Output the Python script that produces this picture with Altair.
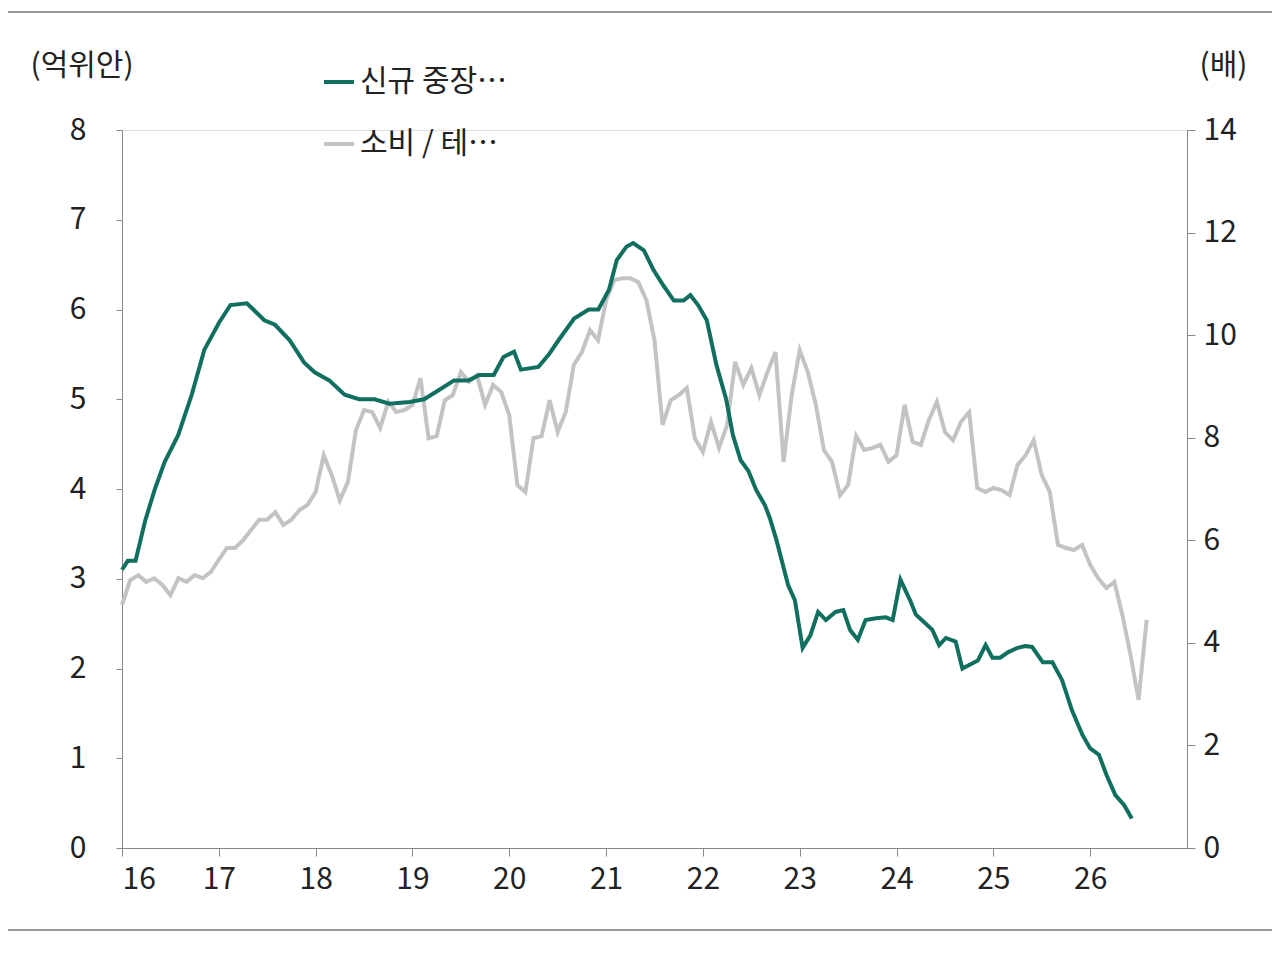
import altair as alt
import pandas as pd

# green: new mid/long-term household loans (12MMA), 억위안
loan_x = [16.00, 16.06, 16.14, 16.24, 16.34, 16.44, 16.58, 16.72, 16.85, 17.00, 17.12, 17.29,
          17.47, 17.58, 17.73, 17.88, 17.99, 18.14, 18.30, 18.45, 18.61, 18.76, 18.97, 19.12,
          19.27, 19.43, 19.58, 19.69, 19.84, 19.94, 20.05, 20.12, 20.30, 20.41, 20.51, 20.67,
          20.82, 20.92, 21.03, 21.11, 21.21, 21.28, 21.39, 21.49, 21.59, 21.70, 21.80, 21.87,
          21.95, 22.04, 22.14, 22.24, 22.31, 22.39, 22.47, 22.55, 22.64, 22.69, 22.76, 22.88,
          22.95, 23.03, 23.11, 23.19, 23.27, 23.37, 23.45, 23.52, 23.60, 23.68, 23.79, 23.89,
          23.96, 24.04, 24.14, 24.20, 24.28, 24.37, 24.44, 24.51, 24.61, 24.68, 24.75, 24.84,
          24.92, 24.99, 25.07, 25.15, 25.25, 25.33, 25.40, 25.51, 25.61, 25.71, 25.81, 25.92,
          26.00, 26.09, 26.17, 26.26, 26.35, 26.43]
loan_v = [3.10, 3.20, 3.20, 3.65, 4.00, 4.30, 4.60, 5.05, 5.55, 5.85, 6.05, 6.07,
          5.88, 5.83, 5.66, 5.41, 5.30, 5.21, 5.05, 5.00, 5.00, 4.95, 4.97, 5.00,
          5.10, 5.21, 5.21, 5.27, 5.27, 5.47, 5.53, 5.33, 5.36, 5.50, 5.66, 5.90,
          6.00, 6.00, 6.22, 6.55, 6.70, 6.74, 6.66, 6.44, 6.27, 6.10, 6.10, 6.16,
          6.05, 5.88, 5.38, 5.00, 4.60, 4.32, 4.20, 3.99, 3.82, 3.68, 3.43, 2.93,
          2.76, 2.23, 2.37, 2.63, 2.54, 2.63, 2.65, 2.43, 2.32, 2.54, 2.56, 2.57,
          2.54, 2.99, 2.76, 2.60, 2.52, 2.43, 2.26, 2.34, 2.30, 2.00, 2.04, 2.09,
          2.26, 2.12, 2.12, 2.18, 2.23, 2.25, 2.24, 2.07, 2.07, 1.87, 1.54, 1.26,
          1.11, 1.04, 0.81, 0.59, 0.48, 0.33]

# gray: consumer / tech relative strength (monthly from 2016-01), 배
ratio_v = [4.74, 5.22, 5.32, 5.19, 5.26, 5.13, 4.93, 5.26, 5.19, 5.32, 5.26, 5.38,
           5.62, 5.85, 5.85, 6.00, 6.20, 6.40, 6.40, 6.55, 6.30, 6.40, 6.59, 6.69,
           6.94, 7.66, 7.27, 6.78, 7.14, 8.15, 8.54, 8.50, 8.19, 8.70, 8.50, 8.54,
           8.64, 9.16, 7.99, 8.03, 8.73, 8.83, 9.28, 9.09, 9.22, 8.64, 9.03, 8.89,
           8.44, 7.08, 6.94, 7.99, 8.03, 8.73, 8.11, 8.50, 9.42, 9.67, 10.10, 9.90,
           10.68, 11.07, 11.11, 11.11, 11.03, 10.68, 9.90, 8.25, 8.73, 8.83, 8.97, 7.99,
           7.72, 8.31, 7.80, 8.25, 9.48, 9.03, 9.36, 8.83, 9.28, 9.67, 7.53, 8.83,
           9.71, 9.28, 8.64, 7.76, 7.53, 6.88, 7.08, 8.03, 7.76, 7.80, 7.86, 7.53,
           7.66, 8.64, 7.92, 7.86, 8.34, 8.70, 8.11, 7.95, 8.31, 8.50, 7.02, 6.94,
           7.02, 6.98, 6.88, 7.47, 7.66, 7.95, 7.27, 6.94, 5.91, 5.85, 5.81, 5.91,
           5.52, 5.26, 5.07, 5.19, 4.54, 3.76, 2.89, 4.45]

GREEN = "#106f5f"
GRAY = "#c3c3c3"
FONT = "Noto Sans CJK KR"
S1 = "신규 중장기 대출 : 가계(12MMA)"
S2 = "소비 / 테크 상대강도 (우)"

loan = pd.DataFrame({"x": loan_x, "v": loan_v, "s": S1})
ratio = pd.DataFrame({"x": [16 + i / 12 for i in range(len(ratio_v))], "v": ratio_v, "s": S2})

xenc = alt.X("x:Q", scale=alt.Scale(domain=[16, 27], nice=False),
             axis=alt.Axis(values=list(range(16, 27)), format="d", title=None, grid=False,
                           labelFontSize=30, labelPadding=8, tickSize=8, domainColor="#888",
                           tickColor="#888", labelColor="#222"))
color = alt.Color("s:N", scale=alt.Scale(domain=[S1, S2], range=[GREEN, GRAY]),
                  legend=alt.Legend(title=None, orient="none", legendX=200, legendY=-65,
                                    symbolType="stroke", symbolStrokeWidth=4, symbolSize=900,
                                    labelFontSize=30, labelFont=FONT, rowPadding=30,
                                    labelColor="#222", symbolOffset=0))

left = alt.Chart(loan).mark_line(strokeWidth=4).encode(
    x=xenc,
    y=alt.Y("v:Q", scale=alt.Scale(domain=[0, 8]),
            axis=alt.Axis(values=list(range(0, 9)), title="(억위안)", titleAngle=0,
                          titleX=-92, titleY=-50, titleAlign="left", titleFontSize=30,
                          titleFontWeight="normal", titleFont=FONT, labelFontSize=30,
                          labelPadding=30, tickSize=6, grid=False, domainColor="#888",
                          tickColor="#888", labelColor="#222", titleColor="#222")),
    color=color,
)
right = alt.Chart(ratio).mark_line(strokeWidth=4).encode(
    x=xenc,
    y=alt.Y("v:Q", scale=alt.Scale(domain=[0, 14]),
            axis=alt.Axis(orient="right", values=list(range(0, 15, 2)), title="(배)",
                          titleAngle=0, titleX=12, titleY=-50, titleAlign="left",
                          titleFontSize=30, titleFontWeight="normal", titleFont=FONT,
                          labelFontSize=30, labelPadding=8, tickSize=8, grid=False,
                          domainColor="#888", tickColor="#888", labelColor="#222",
                          titleColor="#222")),
    color=color,
)
frame = pd.DataFrame({"y": [-118, 800]})
rules = alt.Chart(frame).mark_rule(color="#999", strokeWidth=2, clip=False).encode(
    y=alt.Y("y:Q", scale=None), x=alt.value(-122), x2=alt.value(1150))

chart = alt.layer(right, left, rules).resolve_scale(y="independent", color="shared").properties(
    width=1065, height=718,
    autosize=alt.AutoSizeParams(type="none"),
    padding={"left": 114, "top": 122, "right": 85, "bottom": 102},
).configure_view(stroke=None).configure(font=FONT)

chart.save("out.html", embed_options={"renderer": "svg", "actions": False})
